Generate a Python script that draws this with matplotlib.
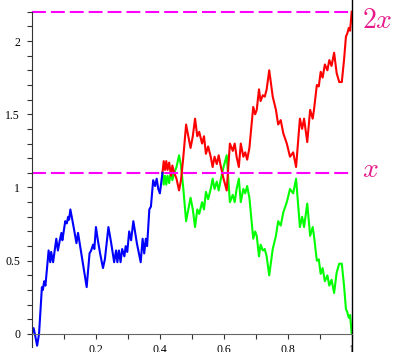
import numpy as np
import matplotlib
matplotlib.use("Agg")
import matplotlib.pyplot as plt

# level x and its double
level = 1.1
top_level = 2.2

# path before hitting the level (blue)
t_before = [0, 0.005, 0.009, 0.016, 0.022, 0.031, 0.034, 0.038, 0.042, 0.052,
            0.057, 0.060, 0.066, 0.076, 0.081, 0.087, 0.092, 0.095, 0.104, 0.109,
            0.113, 0.116, 0.120, 0.126, 0.131, 0.139, 0.144, 0.171, 0.180, 0.185,
            0.191, 0.195, 0.200, 0.206, 0.213, 0.222, 0.228, 0.239, 0.247, 0.257,
            0.263, 0.267, 0.272, 0.277, 0.282, 0.289, 0.293, 0.298, 0.304, 0.310,
            0.317, 0.328, 0.340, 0.346, 0.351, 0.356, 0.360, 0.367, 0.372, 0.379,
            0.385, 0.390, 0.395, 0.400, 0.408]
w_before = [0, 0.04, 0.0, -0.08, 0.0, 0.32, 0.30, 0.36, 0.33, 0.57,
            0.49, 0.56, 0.49, 0.65, 0.57, 0.64, 0.69, 0.64, 0.77, 0.755,
            0.80, 0.78, 0.85, 0.78, 0.72, 0.62, 0.69, 0.32, 0.55, 0.57,
            0.61, 0.58, 0.73, 0.64, 0.55, 0.45, 0.51, 0.73, 0.63, 0.49,
            0.57, 0.49, 0.57, 0.49, 0.58, 0.53, 0.60, 0.56, 0.70, 0.64,
            0.77, 0.62, 0.49, 0.65, 0.55, 0.65, 0.60, 0.85, 0.87, 1.05,
            1.01, 1.06, 0.99, 0.96, 1.10]

# after the hitting time: original (red) and reflected (green)
t_after = [0.408, 0.412, 0.416, 0.420, 0.424, 0.429, 0.435, 0.439, 0.445, 0.452,
           0.460, 0.466, 0.473, 0.482, 0.488, 0.496, 0.503, 0.510, 0.517, 0.523,
           0.532, 0.538, 0.544, 0.551, 0.559, 0.565, 0.571, 0.578, 0.584, 0.590,
           0.598, 0.609, 0.619, 0.628, 0.634, 0.640, 0.647, 0.653, 0.661, 0.667,
           0.673, 0.680, 0.692, 0.698, 0.703, 0.710, 0.715, 0.722, 0.728, 0.734,
           0.742, 0.753, 0.763, 0.770, 0.778, 0.786, 0.797, 0.807, 0.817, 0.826,
           0.838, 0.845, 0.851, 0.861, 0.870, 0.878, 0.882, 0.891, 0.897, 0.903,
           0.909, 0.916, 0.924, 0.930, 0.937, 0.945, 0.953, 0.961, 0.969, 0.976,
           0.982, 0.986, 0.991, 0.995, 1.000]
w_red = [1.10, 1.18, 1.12, 1.18, 1.12, 1.17, 1.08, 1.15, 1.10, 1.06,
         0.98, 1.05, 1.20, 1.43, 1.36, 1.27, 1.35, 1.47, 1.35, 1.38,
         1.30, 1.35, 1.23, 1.28, 1.21, 1.14, 1.21, 1.16, 1.22, 1.15,
         1.07, 0.98, 1.30, 1.25, 1.30, 1.21, 1.14, 1.30, 1.21, 1.24,
         1.19, 1.27, 1.55, 1.50, 1.53, 1.67, 1.59, 1.63, 1.62, 1.67,
         1.80, 1.62, 1.53, 1.43, 1.46, 1.37, 1.30, 1.21, 1.24, 1.14,
         1.47, 1.40, 1.47, 1.31, 1.53, 1.47, 1.53, 1.70, 1.69, 1.79,
         1.75, 1.84, 1.80, 1.87, 1.83, 1.92, 1.78, 1.72, 1.72, 1.87,
         2.03, 2.05, 2.09, 2.07, 2.20]
w_green = [1.10, 1.02, 1.08, 1.02, 1.08, 1.03, 1.12, 1.05, 1.10, 1.14,
           1.22, 1.15, 1.00, 0.77, 0.84, 0.93, 0.85, 0.73, 0.85, 0.82,
           0.90, 0.85, 0.97, 0.92, 0.99, 1.06, 0.99, 1.04, 0.98, 1.05,
           1.13, 1.22, 0.90, 0.95, 0.90, 0.99, 1.06, 0.90, 0.99, 0.96,
           1.01, 0.93, 0.65, 0.70, 0.67, 0.53, 0.61, 0.57, 0.58, 0.53,
           0.40, 0.58, 0.67, 0.77, 0.74, 0.83, 0.90, 0.99, 0.96, 1.06,
           0.73, 0.80, 0.73, 0.89, 0.67, 0.73, 0.67, 0.50, 0.51, 0.41,
           0.45, 0.36, 0.40, 0.33, 0.37, 0.28, 0.42, 0.48, 0.48, 0.33,
           0.17, 0.15, 0.11, 0.13, 0.00]

plt.rcParams["font.family"] = "Liberation Serif"
plt.rcParams["mathtext.fontset"] = "cm"
plt.rcParams["lines.scale_dashes"] = False

fig = plt.figure(figsize=(3.93, 3.52), dpi=100)
ax = fig.add_axes([32 / 393, 0, 319.7 / 393, 1])
ax.set_xlim(0, 1)
ax.set_ylim(-0.123, 2.280)

ax.plot(t_after, w_green, color="#00ff00", lw=1.5)
ax.plot(t_after, w_red, color="#ff0000", lw=1.5)
ax.plot(t_before, w_before, color="#0000ff", lw=1.5)

for yv in (level, top_level):
    ax.plot([0, 1], [yv, yv], color="#ff00ff", lw=1.5, dashes=(10, 3.6))

ax.axvline(1.0, color="black", lw=1.0, clip_on=False)

ax.text(1.033, 2.089, "$2x$", color="#e8198b", fontsize=20, va="baseline", ha="left", clip_on=False)
ax.text(1.033, 1.074, "$x$", color="#e8198b", fontsize=20, va="baseline", ha="left", clip_on=False)

for side in ("top", "right"):
    ax.spines[side].set_visible(False)
ax.spines["left"].set_position(("data", 0))
ax.spines["left"].set_bounds(-0.09, 2.2)
ax.spines["left"].set_color("#333333")
ax.spines["bottom"].set_position(("data", 0))
ax.spines["bottom"].set_bounds(0, 1)
ax.spines["bottom"].set_color("#666666")

ax.set_xticks(np.arange(1, 11) / 10, minor=True)
ax.set_xticks([0.2, 0.4, 0.6, 0.8, 1.0])
ax.set_xticklabels(["0.2", "0.4", "0.6", "0.8", "1"])
ax.set_yticks(np.arange(0, 23) / 10, minor=True)
ax.set_yticks([0, 0.5, 1, 1.5, 2])
ax.set_yticklabels(["0", "0.5", "1", "1.5", "2"])
ax.tick_params(axis="both", which="both", length=3.5, width=0.8, color="#333333",
               labelsize=8.5, direction="out")
ax.tick_params(axis="x", pad=3.5)
ax.tick_params(axis="y", pad=5)

fig.savefig("out.png", dpi=100)
